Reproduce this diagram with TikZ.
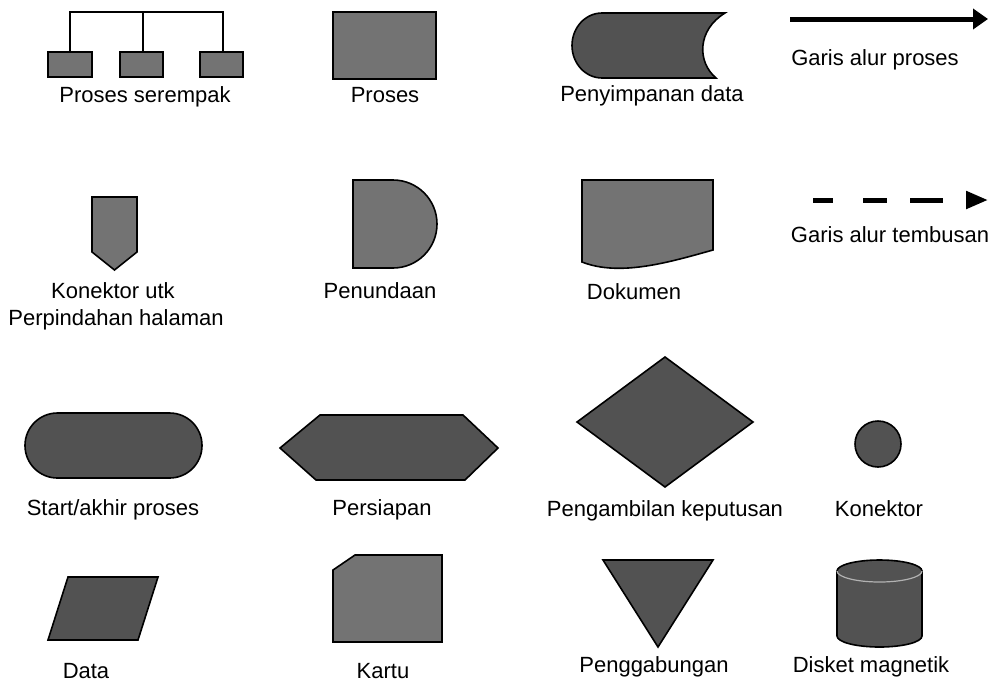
\documentclass[tikz,border=0pt]{standalone}
\usepackage{fontspec}
\setmainfont{Liberation Sans}
\usetikzlibrary{arrows.meta}
\tikzset{
  darkshape/.style={draw=black, line width=0.8pt, fill=black!68},
  lightshape/.style={draw=black, line width=0.8pt, fill=black!55},
  lbl/.style={anchor=base, inner sep=0pt, font=\fontsize{11}{13}\selectfont},
  bracketline/.style={draw=black, line width=0.6pt},
  flowline/.style={draw=black, line width=2.5pt},
}
\begin{document}
\begin{tikzpicture}[x=0.5pt, y=-0.5pt]
\useasboundingbox (0,0) rectangle (988,685);

% ---------- Proses serempak ----------
\node[lightshape, minimum width=22pt, minimum height=12.5pt, inner sep=0pt] (ps1) at (70,64.5) {};
\node[lightshape, minimum width=21.5pt, minimum height=12.5pt, inner sep=0pt] (ps2) at (141.5,64.5) {};
\node[lightshape, minimum width=21.5pt, minimum height=12.5pt, inner sep=0pt] (ps3) at (221.5,64.5) {};
\coordinate (t1) at (70,12);
\coordinate (t2) at (143,12);
\coordinate (t3) at (223,12);
\draw[bracketline] (ps1.north) -- (t1) -- (t3) -- (ps3.north -| t3);
\draw[bracketline] (t2) -- (ps2.north -| t2);
\node[lbl] (lps) at (145,102) {Proses serempak};

% ---------- Proses ----------
\draw[lightshape] (333,12) rectangle (436,79);
\node[lbl] (lpr) at (385,102) {Proses};

% ---------- Penyimpanan data ----------
\draw[darkshape] (602,13) -- (725,13) .. controls (697,30) and (697,62) .. (716,78)
  -- (602,78) arc[start angle=90, end angle=270, x radius=30, y radius=32.5] -- cycle;
\node[lbl] (lpd) at (652,101) {Penyimpanan data};

% ---------- Garis alur proses ----------
\coordinate (ga1) at (790,19);
\coordinate (ga2) at (988,19);
\draw[flowline, -{Triangle[length=7.5pt, width=10pt]}] (ga1) -- (ga2);
\node[lbl] (lga) at (875,65) {Garis alur proses};

% ---------- Konektor utk perpindahan halaman ----------
\draw[lightshape] (92,197) -- (137,197) -- (137,252) -- (114.5,270) -- (92,252) -- cycle;
\node[lbl] (lku) at (113,298) {Konektor utk};
\node[lbl] (lph) at (116,325) {Perpindahan halaman};

% ---------- Penundaan ----------
\draw[lightshape] (353,180) -- (393,180) arc[start angle=-90, end angle=90, radius=44]
  -- (353,268) -- cycle;
\node[lbl] (lpn) at (380,298) {Penundaan};

% ---------- Dokumen ----------
\draw[lightshape] (582,180) -- (713,180) -- (713,250)
  .. controls (670,262) and (620,277) .. (582,262) -- cycle;
\node[lbl] (ldk) at (634,299) {Dokumen};

% ---------- Garis alur tembusan ----------
\coordinate (gt1) at (813,200);
\coordinate (gt2) at (988,200);
\draw[flowline, dash pattern=on 10pt off 15pt on 12pt off 11.5pt on 16.5pt off 100pt,
  -{Triangle[length=11pt, width=8.5pt]}] (gt1) -- (gt2);
\node[lbl] (lgt) at (890,242) {Garis alur tembusan};

% ---------- Start/akhir proses ----------
\draw[darkshape, rounded corners=16.2pt] (25,413) rectangle (202,478);
\node[lbl] (lst) at (113,515) {Start/akhir proses};

% ---------- Persiapan ----------
\draw[darkshape] (280,448) -- (320,415) -- (463,415) -- (498,448) -- (465,480) -- (316,480) -- cycle;
\node[lbl] (lpp) at (382,515) {Persiapan};

% ---------- Pengambilan keputusan ----------
\draw[darkshape] (665,357) -- (753,422) -- (665,487) -- (577,422) -- cycle;
\node[lbl] (lpk) at (665,516) {Pengambilan keputusan};

% ---------- Konektor ----------
\draw[darkshape] (878,444) circle[radius=23];
\node[lbl] (lkn) at (879,516) {Konektor};

% ---------- Data ----------
\draw[darkshape] (68,577) -- (158,577) -- (138,640) -- (48,640) -- cycle;
\node[lbl] (lda) at (86,678) {Data};

% ---------- Kartu ----------
\draw[lightshape] (355,555) -- (442,555) -- (442,642) -- (333,642) -- (333,570) -- cycle;
\node[lbl] (lka) at (383,678) {Kartu};

% ---------- Penggabungan ----------
\draw[darkshape] (603,560) -- (713,560) -- (658,647) -- cycle;
\node[lbl] (lpg) at (654,672) {Penggabungan};

% ---------- Disket magnetik ----------
\draw[darkshape] (837,571) -- (837,636) arc[start angle=180, end angle=0, x radius=42.5, y radius=11]
  -- (922,571) arc[start angle=0, end angle=-180, x radius=42.5, y radius=11] -- cycle;
\draw[draw=black!30, line width=0.6pt] (837,571) arc[start angle=180, end angle=0, x radius=42.5, y radius=11];
\node[lbl] (ldm) at (871,672) {Disket magnetik};
\end{tikzpicture}
\end{document}
